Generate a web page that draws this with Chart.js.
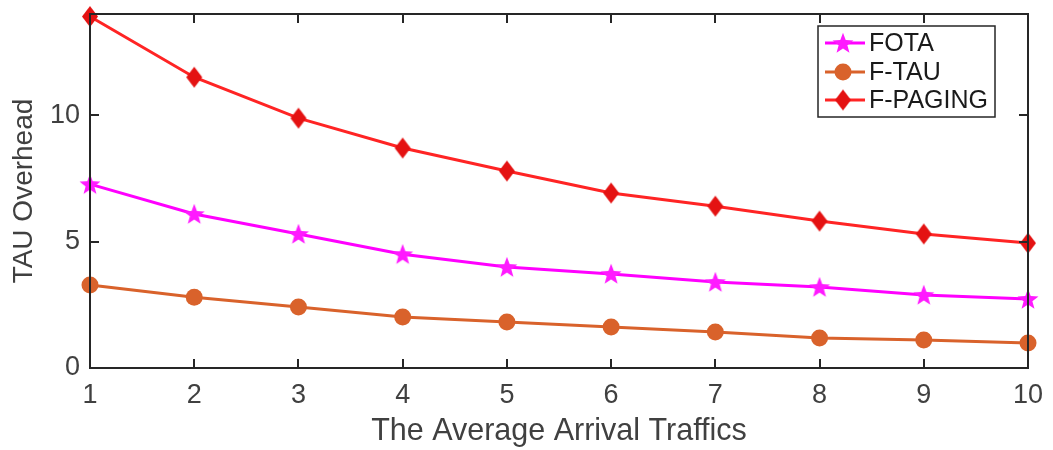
<!DOCTYPE html>
<html>
<head>
<meta charset="utf-8">
<script src="https://cdn.jsdelivr.net/npm/chart.js@4/dist/chart.umd.min.js"></script>
<style>
  html, body { margin: 0; padding: 0; background: #fff; }
  #wrap { width: 1053px; height: 450px; }
</style>
</head>
<body>
<div id="wrap"><canvas id="c" width="1053" height="450"></canvas></div>
<script>
// Average arrival traffic on the x axis, overhead per scheme on the y axis
const arrivalTraffic = [1, 2, 3, 4, 5, 6, 7, 8, 9, 10];
const fotaOverhead   = [7.27, 6.09, 5.30, 4.50, 3.99, 3.72, 3.40, 3.20, 2.89, 2.73];
const ftauOverhead   = [3.28, 2.80, 2.41, 2.02, 1.82, 1.62, 1.42, 1.19, 1.11, 0.99];
const fpagingOverhead = [13.9, 11.5, 9.88, 8.70, 7.79, 6.92, 6.40, 5.81, 5.30, 4.94];
const xTickValues = [1, 2, 3, 4, 5, 6, 7, 8, 9, 10];
const yTickValues = [0, 5, 10];
const seriesNames = ['FOTA', 'F-TAU', 'F-PAGING'];

const FONT = "'Liberation Sans', Arial, sans-serif";
const AXIS_COLOR = '#262626';
const TICK_COLOR = '#404040';

// Filled five-pointed star used as the FOTA marker
function makeStar(outer, inner, fill) {
  const size = Math.ceil(outer * 2) + 2;
  const cv = document.createElement('canvas');
  cv.width = size; cv.height = size;
  const g = cv.getContext('2d');
  const cx = size / 2, cy = size / 2 + 0.8;
  g.beginPath();
  for (let i = 0; i < 10; i++) {
    const r = i % 2 === 0 ? outer : inner;
    const a = -Math.PI / 2 + i * Math.PI / 5;
    const px = cx + r * Math.cos(a), py = cy + r * Math.sin(a);
    if (i === 0) g.moveTo(px, py); else g.lineTo(px, py);
  }
  g.closePath();
  g.fillStyle = fill;
  g.fill();
  return cv;
}

// Upright diamond, a little taller than wide, used as the F-PAGING marker
function makeDiamond(hw, hh, fill) {
  const w = Math.ceil(hw * 2) + 2, h = Math.ceil(hh * 2) + 2;
  const cv = document.createElement('canvas');
  cv.width = w; cv.height = h;
  const g = cv.getContext('2d');
  const cx = w / 2, cy = h / 2;
  g.beginPath();
  g.moveTo(cx, cy - hh); g.lineTo(cx + hw, cy); g.lineTo(cx, cy + hh); g.lineTo(cx - hw, cy);
  g.closePath();
  g.fillStyle = fill;
  g.fill();
  return cv;
}

const starImg = makeStar(11, 4.6, '#ff1aff');
const diamondImg = makeDiamond(8, 10.5, '#e41212');

function pts(ys) { return arrivalTraffic.map((x, i) => ({ x: x, y: ys[i] })); }

const datasets = [
  {
    label: seriesNames[0], data: pts(fotaOverhead),
    borderColor: '#ff00ff', borderWidth: 3, pointStyle: starImg,
    backgroundColor: '#ff1aff', pointBorderWidth: 0, pointRadius: 10
  },
  {
    label: seriesNames[1], data: pts(ftauOverhead),
    borderColor: '#d9622b', borderWidth: 3, pointStyle: 'circle',
    backgroundColor: '#d9622b', pointBorderColor: '#d9622b', pointBorderWidth: 0, pointRadius: 8.5
  },
  {
    label: seriesNames[2], data: pts(fpagingOverhead),
    borderColor: '#ff2424', borderWidth: 3, pointStyle: diamondImg,
    backgroundColor: '#e41212', pointBorderWidth: 0, pointRadius: 10
  }
];

// Box around the plot with inward tick marks on all four sides, plus the legend
const framePlugin = {
  id: 'frame',
  afterDatasetsDraw(chart) {
    const { ctx, chartArea: a, scales } = chart;
    const xs = scales.x, ys = scales.y;
    const tl = 9;
    ctx.save();
    ctx.strokeStyle = AXIS_COLOR;
    ctx.lineWidth = 2;
    ctx.beginPath();
    xTickValues.forEach(v => {
      const px = Math.round(xs.getPixelForValue(v));
      ctx.moveTo(px, a.bottom); ctx.lineTo(px, a.bottom - tl);
      ctx.moveTo(px, a.top); ctx.lineTo(px, a.top + tl);
    });
    yTickValues.forEach(v => {
      const py = Math.round(ys.getPixelForValue(v));
      ctx.moveTo(a.left, py); ctx.lineTo(a.left + tl, py);
      ctx.moveTo(a.right, py); ctx.lineTo(a.right - tl, py);
    });
    ctx.stroke();
    ctx.strokeRect(a.left, a.top, a.right - a.left, a.bottom - a.top);
    ctx.restore();
  },
  afterDraw(chart) {
    const { ctx } = chart;
    const bx = 818, by = 26, bw = 177, bh = 91;
    ctx.save();
    ctx.fillStyle = '#ffffff';
    ctx.fillRect(bx, by, bw, bh);
    ctx.strokeStyle = AXIS_COLOR;
    ctx.lineWidth = 1.5;
    ctx.strokeRect(bx, by, bw, bh);
    const rowY = [43, 72, 100];
    chart.data.datasets.forEach((ds, i) => {
      const y = rowY[i];
      ctx.strokeStyle = ds.borderColor;
      ctx.lineWidth = 3;
      ctx.beginPath();
      ctx.moveTo(825, y); ctx.lineTo(865, y);
      ctx.stroke();
      const mx = 843;
      ctx.fillStyle = ds.backgroundColor;
      if (ds.pointStyle === 'circle') {
        ctx.beginPath(); ctx.arc(mx, y, ds.pointRadius, 0, Math.PI * 2); ctx.fill();
      } else {
        ctx.drawImage(ds.pointStyle, mx - ds.pointStyle.width / 2, y - ds.pointStyle.height / 2);
      }
      ctx.fillStyle = '#1a1a1a';
      ctx.font = '25px ' + FONT;
      ctx.textBaseline = 'middle';
      ctx.textAlign = 'left';
      ctx.fillText(ds.label, 869, y + 1);
    });
    ctx.restore();
  }
};

new Chart(document.getElementById('c'), {
  type: 'line',
  data: { datasets: datasets },
  options: {
    responsive: false,
    animation: false,
    layout: { padding: { top: 14, right: 25, left: 0, bottom: 0 } },
    plugins: { legend: { display: false }, tooltip: { enabled: false } },
    elements: { line: { tension: 0 } },
    clip: false,
    scales: {
      x: {
        type: 'linear', min: 1, max: 10,
        afterBuildTicks(s) { s.ticks = xTickValues.map(v => ({ value: v })); },
        afterFit(s) { s.height = 82; s.paddingLeft = 0; s.paddingRight = 0; },
        grid: { display: false, drawTicks: false },
        border: { display: false },
        ticks: { color: TICK_COLOR, font: { family: FONT, size: 27 }, padding: 11, maxRotation: 0 },
        title: { display: true, text: 'The Average Arrival Traffics', color: TICK_COLOR,
                 font: { family: FONT, size: 30.5 }, padding: { top: 0, bottom: 0 } }
      },
      y: {
        type: 'linear', min: 0, max: 14,
        afterBuildTicks(s) { s.ticks = yTickValues.map(v => ({ value: v })); },
        afterFit(s) { s.width = 90; s.paddingTop = 0; s.paddingBottom = 0; },
        grid: { display: false, drawTicks: false },
        border: { display: false },
        ticks: { color: TICK_COLOR, font: { family: FONT, size: 27 }, padding: 10 },
        title: { display: true, text: 'TAU Overhead', color: TICK_COLOR,
                 font: { family: FONT, size: 28 }, padding: { top: 7, bottom: 0 } }
      }
    }
  },
  plugins: [framePlugin]
});
</script>
</body>
</html>
